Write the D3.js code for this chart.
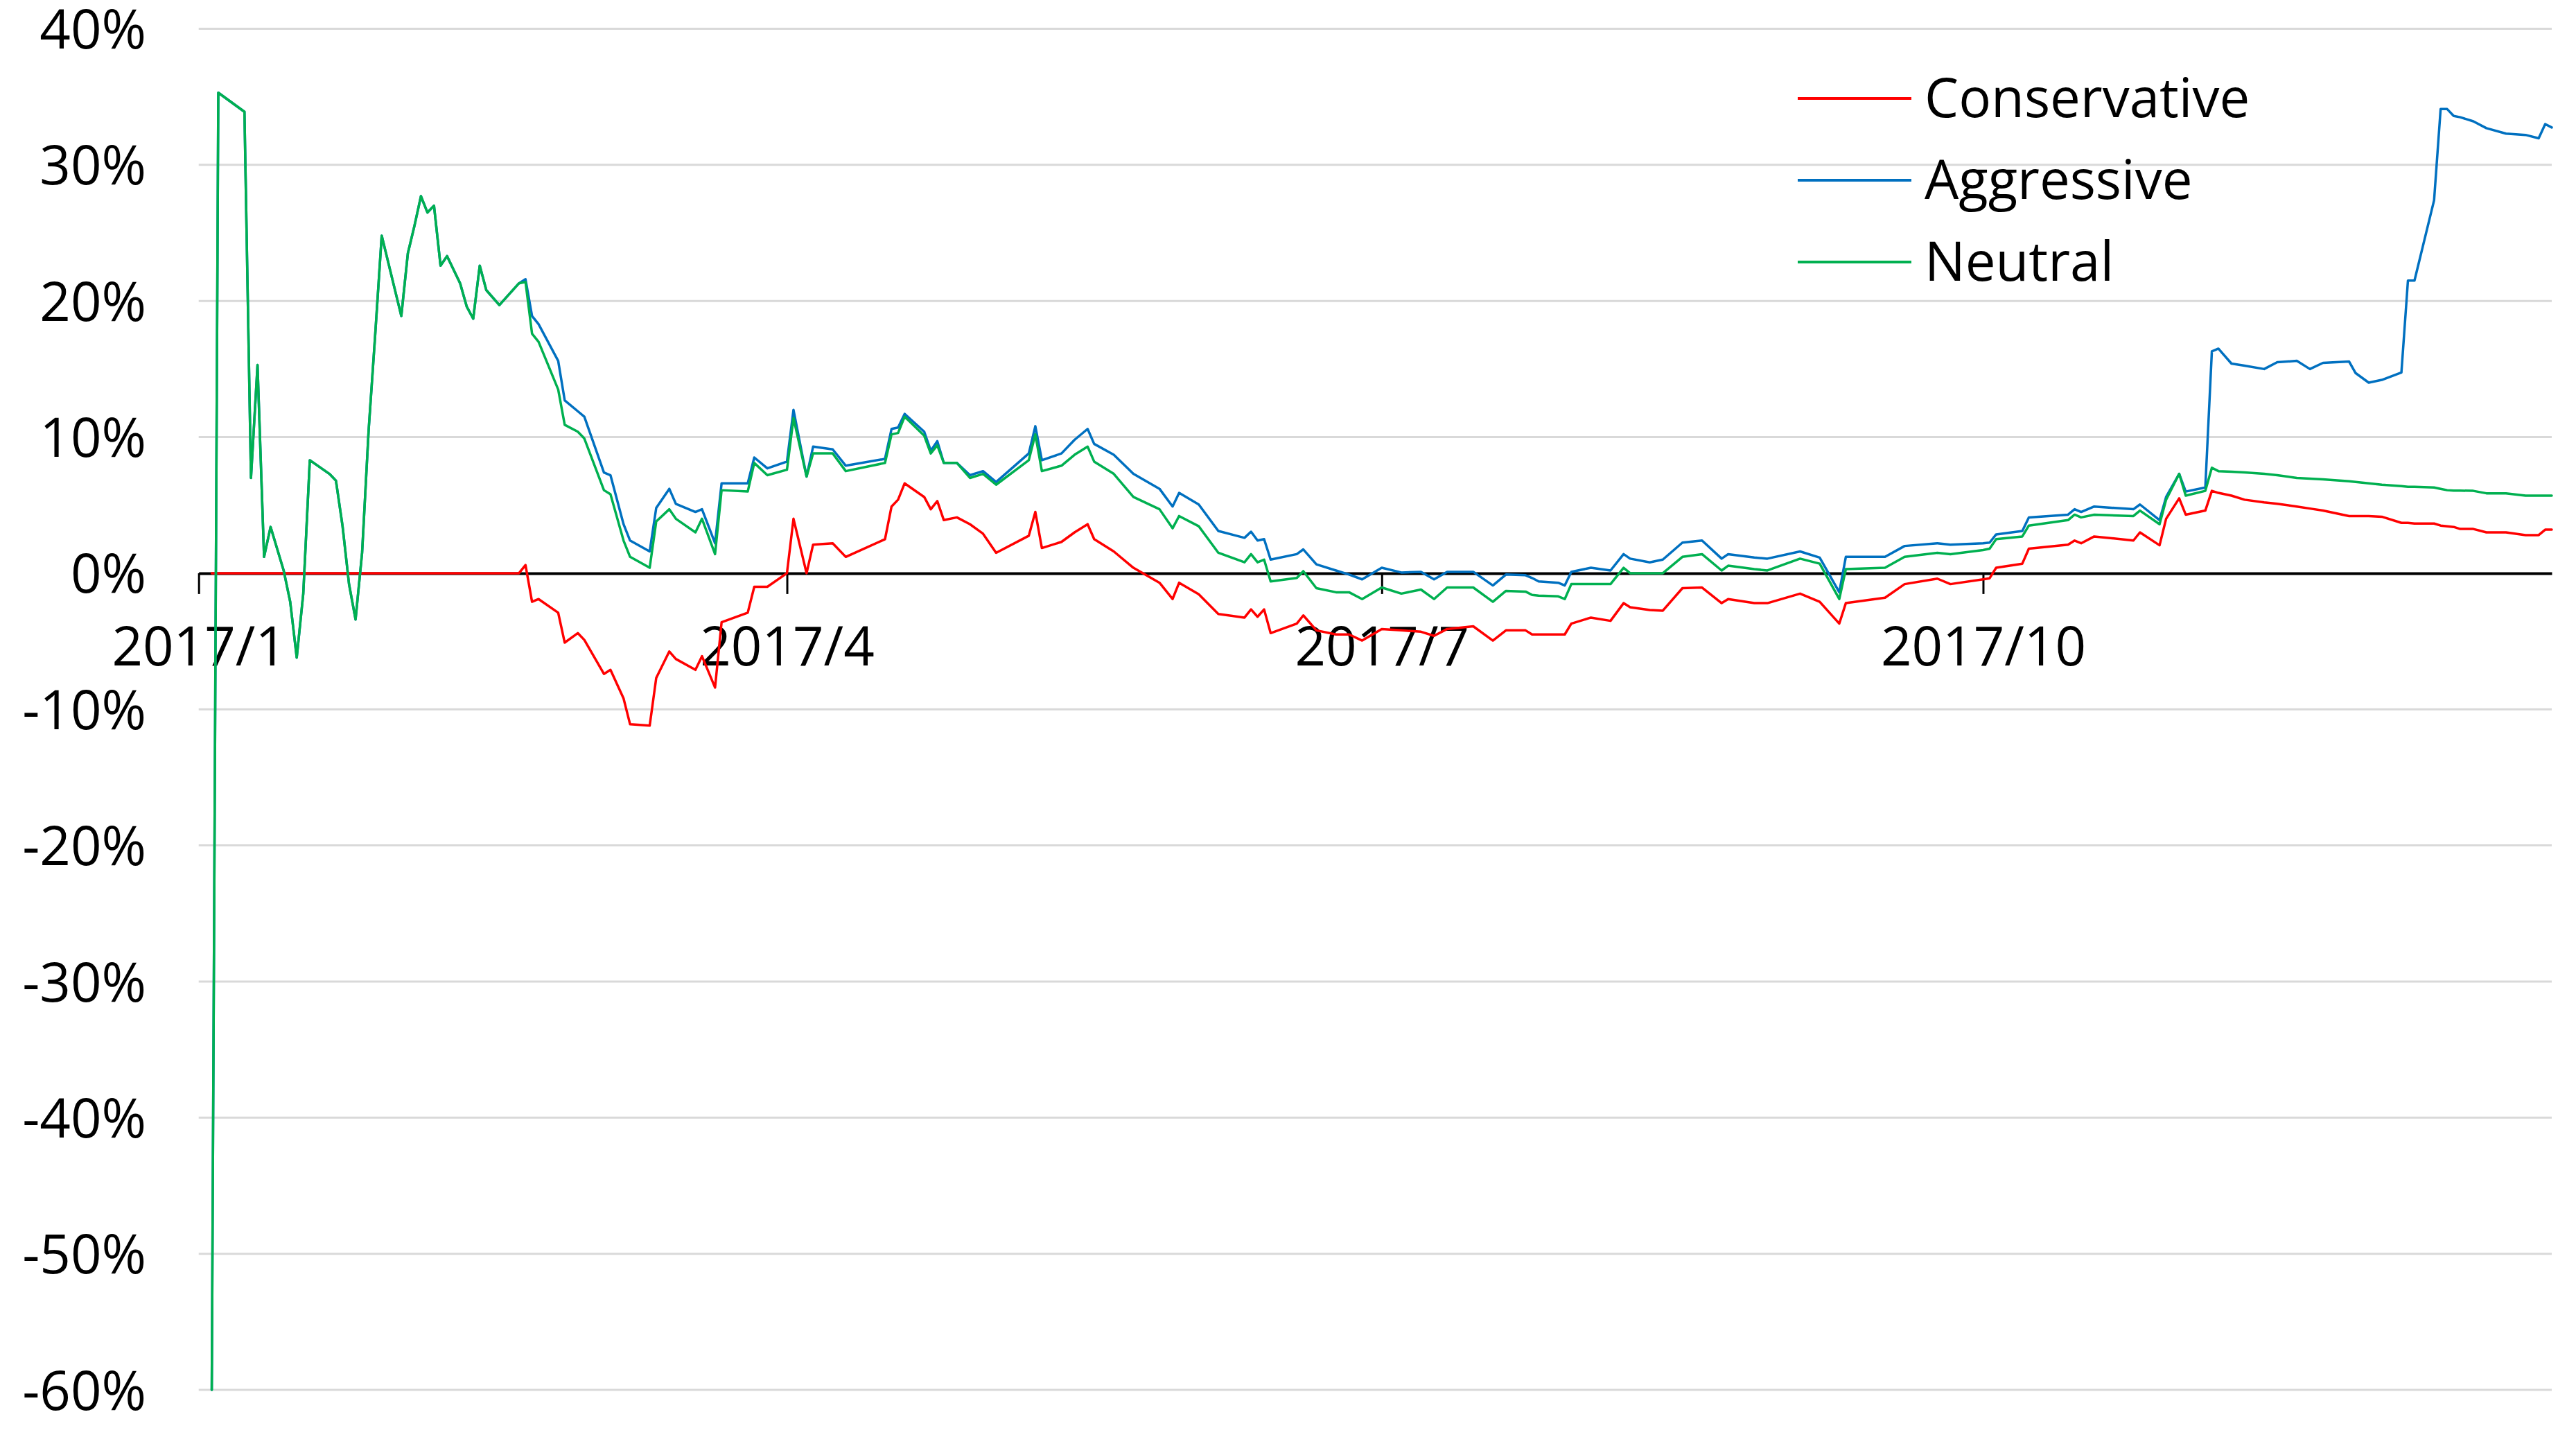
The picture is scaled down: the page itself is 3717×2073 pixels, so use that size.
<!DOCTYPE html>
<html>
<head>
<meta charset="utf-8">
<script src="https://cdn.jsdelivr.net/npm/d3@7"></script>
<style>
  html, body { margin: 0; padding: 0; background: #ffffff; }
  svg { display: block; }
  text { font-family: "Open Sans", "Noto Sans", sans-serif; fill: #000; }
</style>
</head>
<body>
<svg id="chart" width="3717" height="2073"></svg>
<script>
// ---------------- data ----------------
const year = 2017;
const dates = [
  "01-03","01-04","01-08","01-09","01-10","01-11","01-12","01-14","01-15","01-16","01-17","01-18","01-21","01-22","01-23","01-24","01-25","01-26","01-27","01-28","01-29",
  "02-01","02-02","02-03","02-04","02-05","02-06","02-07","02-08","02-10","02-11","02-12","02-13","02-14","02-16","02-19","02-20","02-21","02-22","02-25","02-26","02-28",
  "03-01","03-04","03-05","03-07","03-08","03-11","03-12","03-14","03-15","03-18","03-19","03-21","03-22","03-26","03-27","03-29",
  "04-01","04-02","04-04","04-05","04-08","04-10","04-16","04-17","04-18","04-19","04-22","04-23","04-24","04-25","04-27","04-29",
  "05-01","05-03","05-08","05-09","05-10","05-13","05-15","05-17","05-18","05-21","05-24","05-28","05-30","05-31",
  "06-03","06-06","06-10","06-11","06-12","06-13","06-14","06-18","06-19","06-21","06-24","06-26","06-28",
  "07-01","07-04","07-07","07-09","07-11","07-15","07-18","07-20","07-23","07-24","07-25","07-28","07-29","07-30",
  "08-02","08-05","08-07","08-08","08-11","08-13","08-16","08-19","08-22","08-23","08-27","08-29",
  "09-03","09-06","09-09","09-10","09-16","09-19","09-24","09-26",
  "10-01","10-02","10-03","10-07","10-08","10-14","10-15","10-16","10-18","10-24","10-25","10-28","10-29","10-31",
  "11-01","11-04","11-05","11-06","11-08","11-10","11-13","11-15","11-18","11-20","11-22","11-26","11-27","11-29",
  "12-01","12-04","12-05","12-06","12-09","12-10","12-11","12-12","12-13","12-15","12-17","12-20","12-23","12-25","12-26","12-27"
];

// values in percent
const conservative = [
  0,0,0,0,0,0,0,0,0,0,0,0,0,0,0,0,0,0,0,0,0,
  0,0,0,0,0,0,0,0,0,0,0,0,0,0,0,0.6,-2.1,-1.9,-2.9,-5.1,-4.4,
  -4.9,-7.4,-7.1,-9.2,-11.1,-11.2,-7.7,-5.75,-6.3,-7.1,-6.1,-8.4,-3.6,-2.9,-1.0,-1.0,
  0.0,4.0,0.0,2.1,2.2,1.2,2.5,4.9,5.4,6.6,5.6,4.7,5.3,3.9,4.1,3.6,
  2.9,1.5,2.75,4.5,1.85,2.3,3.0,3.6,2.5,1.6,0.4,-0.7,-1.9,-0.7,
  -1.55,-3.0,-3.26,-2.66,-3.2,-2.66,-4.4,-3.7,-3.1,-4.2,-4.5,-4.5,-4.95,
  -4.1,-4.2,-4.3,-4.6,-4.1,-3.9,-4.95,-4.2,-4.2,-4.5,-4.5,-4.5,-4.5,-3.7,
  -3.26,-3.5,-2.2,-2.5,-2.7,-2.75,-1.1,-1.05,-2.2,-1.9,-2.2,-2.2,
  -1.5,-2.1,-3.7,-2.2,-1.8,-0.8,-0.4,-0.8,
  -0.45,-0.37,0.4,0.7,1.8,2.1,2.4,2.2,2.7,2.4,3.0,2.05,4.0,5.5,
  4.3,4.6,6.05,5.9,5.7,5.4,5.2,5.1,4.9,4.75,4.6,4.2,4.2,4.2,
  4.15,3.7,3.7,3.65,3.65,3.5,3.45,3.4,3.25,3.25,3.0,3.0,2.8,2.8,3.2,3.2
];

const aggressive = [
  -60,35.3,33.9,7.0,15.3,1.2,3.4,0.2,-2.1,-6.2,-1.5,8.3,7.3,6.8,3.5,-0.8,-3.4,1.5,10.5,17.5,24.8,
  18.9,23.5,25.5,27.7,26.5,27.0,22.6,23.3,21.3,19.6,18.7,22.6,20.8,19.7,21.3,21.6,18.9,18.3,15.6,12.7,11.9,
  11.5,7.4,7.2,3.6,2.4,1.6,4.8,6.2,5.1,4.5,4.7,2.2,6.6,6.6,8.5,7.7,
  8.2,12.0,7.1,9.3,9.1,7.9,8.4,10.6,10.7,11.7,10.4,9.0,9.7,8.1,8.1,7.2,
  7.5,6.7,8.8,10.8,8.3,8.8,9.8,10.6,9.5,8.7,7.3,6.2,4.9,5.9,
  5.05,3.1,2.6,3.05,2.4,2.5,1.0,1.4,1.75,0.65,0.2,-0.1,-0.45,
  0.4,0.05,0.1,-0.45,0.1,0.1,-0.9,-0.1,-0.15,-0.35,-0.6,-0.7,-0.9,0.1,
  0.4,0.2,1.4,1.07,0.8,1.0,2.25,2.4,1.07,1.4,1.15,1.07,
  1.6,1.15,-1.4,1.2,1.2,2.0,2.2,2.1,
  2.2,2.25,2.85,3.1,4.1,4.3,4.7,4.5,4.9,4.7,5.05,3.9,5.6,7.3,
  6.0,6.3,16.3,16.5,15.4,15.25,15.0,15.5,15.6,15.0,15.45,15.55,14.7,14.0,
  14.2,14.75,21.5,21.5,27.4,34.1,34.1,33.6,33.5,33.2,32.7,32.3,32.2,31.95,33.0,32.75
];

const neutral = [
  -60,35.3,33.9,7.0,15.3,1.2,3.4,0.2,-2.1,-6.2,-1.5,8.3,7.3,6.8,3.5,-0.8,-3.4,1.5,10.5,17.5,24.8,
  18.9,23.5,25.5,27.7,26.5,27.0,22.6,23.3,21.3,19.6,18.7,22.6,20.8,19.7,21.3,21.4,17.6,17.0,13.5,10.9,10.4,
  9.9,6.1,5.8,2.4,1.2,0.4,3.8,4.7,4.0,3.0,4.0,1.4,6.1,6.0,8.1,7.2,
  7.6,11.4,7.1,8.8,8.8,7.5,8.1,10.2,10.3,11.5,10.1,8.8,9.4,8.1,8.1,7.0,
  7.3,6.5,8.3,10.2,7.5,7.9,8.7,9.3,8.2,7.3,5.6,4.7,3.3,4.2,
  3.45,1.5,0.8,1.4,0.8,1.0,-0.6,-0.35,0.15,-1.1,-1.4,-1.4,-1.9,
  -1.05,-1.5,-1.2,-1.9,-1.05,-1.05,-2.1,-1.3,-1.35,-1.6,-1.65,-1.7,-1.9,-0.8,
  -0.8,-0.8,0.4,0.0,0.0,0.0,1.2,1.4,0.2,0.55,0.3,0.2,
  1.07,0.7,-1.9,0.3,0.4,1.2,1.5,1.4,
  1.7,1.8,2.5,2.7,3.5,3.9,4.3,4.1,4.3,4.2,4.6,3.6,5.4,7.3,
  5.7,6.05,7.75,7.5,7.45,7.4,7.3,7.2,7.0,6.95,6.9,6.75,6.7,6.6,
  6.5,6.4,6.35,6.35,6.3,6.2,6.1,6.07,6.07,6.05,5.87,5.87,5.7,5.7,5.7,5.7
];

const seriesNames = ["Conservative", "Aggressive", "Neutral"];
const seriesColors = ["#FF0000", "#0070C0", "#00B050"];
const yTicks = [40, 30, 20, 10, 0, -10, -20, -30, -40, -50, -60];
const xTickDates = ["2017-01-01", "2017-04-01", "2017-07-01", "2017-10-01"];
const xDomain = ["2017-01-01", "2017-12-27"];

// ---------------- chart ----------------
const parse = d3.timeParse("%Y-%m-%d");
const dateObjs = dates.map(d => parse(year + "-" + d));
if (conservative.length !== dates.length || aggressive.length !== dates.length || neutral.length !== dates.length) {
  throw new Error("length mismatch " + dates.length + " " + conservative.length + " " + aggressive.length + " " + neutral.length);
}

const svg = d3.select("#chart");
const W = 3717, H = 2073;
const plot = { left: 286.7, right: 3682, top: 41.5, bottom: 2005 };

svg.append("rect").attr("width", W).attr("height", H).attr("fill", "#ffffff");

const x = d3.scaleTime().domain(xDomain.map(parse)).range([plot.left, plot.right]);
const y = d3.scaleLinear().domain([-60, 40]).range([plot.bottom, plot.top]);

const FONT = 78;

// gridlines
svg.append("g").selectAll("line")
  .data(yTicks.filter(v => v !== 0))
  .join("line")
  .attr("x1", plot.left).attr("x2", plot.right)
  .attr("y1", d => y(d)).attr("y2", d => y(d))
  .attr("stroke", "#D9D9D9").attr("stroke-width", 3);

// y axis labels
const yAxis = d3.axisLeft(y).tickValues(yTicks).tickSize(0).tickPadding(0)
  .tickFormat(v => Math.round(v) + "%");
const gy = svg.append("g").attr("transform", `translate(211,0)`).call(yAxis);
gy.select(".domain").remove();
gy.selectAll("text").attr("font-size", FONT).attr("font-family", '"Open Sans", sans-serif')
  .attr("fill", "#000").attr("dy", "0.36em").attr("x", 0);

// x axis at 0
const xAxis = d3.axisBottom(x).tickValues(xTickDates.map(parse)).tickSize(30).tickSizeOuter(0)
  .tickFormat(d3.timeFormat("%Y/%-m"));
const gx = svg.append("g").attr("transform", `translate(0,${y(0)})`).call(xAxis);
gx.select(".domain").attr("stroke", "#000").attr("stroke-width", 4);
gx.selectAll(".tick line").attr("stroke", "#000").attr("stroke-width", 3);
gx.selectAll("text").attr("font-size", FONT).attr("font-family", '"Open Sans", sans-serif')
  .attr("fill", "#000").attr("y", 133).attr("dy", null);

// series
const seriesData = [conservative, aggressive, neutral];
const line = d3.line()
  .x((d, i) => x(dateObjs[i]))
  .y(d => y(d));
seriesData.forEach((vals, k) => {
  svg.append("path")
    .datum(vals)
    .attr("d", line)
    .attr("fill", "none")
    .attr("stroke", seriesColors[k])
    .attr("stroke-width", 3.5)
    .attr("stroke-linejoin", "round")
    .attr("stroke-linecap", "round");
});

// legend
const legendYs = [142, 260, 378];
const lg = svg.append("g");
seriesNames.forEach((name, k) => {
  lg.append("line")
    .attr("x1", 2594).attr("x2", 2758)
    .attr("y1", legendYs[k]).attr("y2", legendYs[k])
    .attr("stroke", seriesColors[k]).attr("stroke-width", 4);
  lg.append("text")
    .attr("x", 2777).attr("y", legendYs[k] + 27)
    .attr("font-size", FONT)
    .text(name);
});
</script>
</body>
</html>
